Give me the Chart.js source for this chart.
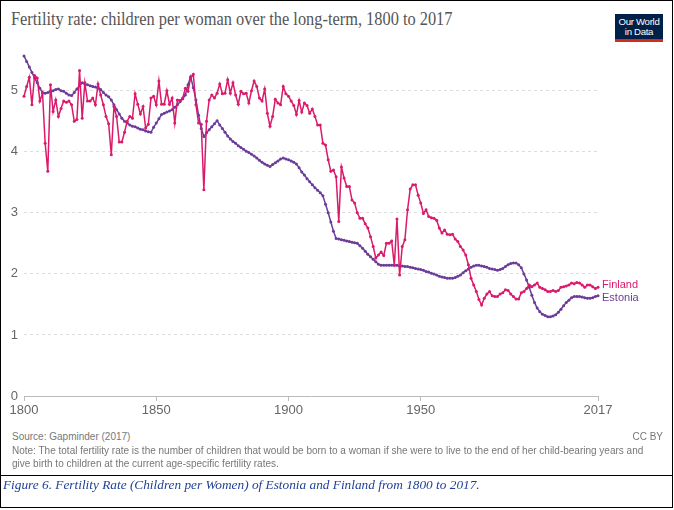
<!DOCTYPE html>
<html>
<head>
<meta charset="utf-8">
<script src="https://cdn.jsdelivr.net/npm/chart.js@4/dist/chart.umd.min.js"></script>
<style>
  html, body { margin: 0; padding: 0; background: #fff; }
  #wrap { position: relative; width: 674px; height: 510px; overflow: hidden; font-family: "Liberation Sans", Arial, sans-serif; }
  #frame { position: absolute; left: 0; top: 0; width: 673px; height: 508px; border: 1px solid #000; box-sizing: border-box; }
  #sep { position: absolute; left: 0; top: 475px; width: 673px; height: 1px; background: #000; }
  #title { position: absolute; left: 11px; top: 9px; font-family: "Liberation Serif", "Times New Roman", serif; font-size: 18.5px; color: #555; white-space: nowrap; transform: scaleX(0.885); transform-origin: 0 0; }
  #logo { position: absolute; left: 615px; top: 14px; width: 48px; height: 22px; background: #002147; border-bottom: 3px solid #d42b21; color: #fff; font-size: 9.6px; line-height: 10px; text-align: center; padding-top: 3px; letter-spacing: -0.3px; }
  #chart { position: absolute; left: 0; top: 0; }
  .foot { position: absolute; font-size: 10px; color: #777; white-space: nowrap; }
  #caption { position: absolute; left: 3px; top: 477px; font-family: "Liberation Serif", "Times New Roman", serif; font-style: italic; font-size: 13.3px; color: #1f3f96; white-space: nowrap; }
</style>
</head>
<body>
<div id="wrap">
  <div id="title">Fertility rate: children per woman over the long-term, 1800 to 2017</div>
  <div id="logo">Our World<br>in Data</div>
  <canvas id="chart" width="674" height="430"></canvas>
  <div class="foot" style="left:12px; top:431px;">Source: Gapminder (2017)</div>
  <div class="foot" style="right:11px; top:431px;">CC BY</div>
  <div class="foot" style="left:12px; top:444px; line-height:13px;">Note: The total fertility rate is the number of children that would be born to a woman if she were to live to the end of her child-bearing years and<br>give birth to children at the current age-specific fertility rates.</div>
  <div id="frame"></div>
  <div id="sep"></div>
  <div id="caption">Figure 6. Fertility Rate (Children per Women) of Estonia and Finland from 1800 to 2017.</div>
</div>
<script>
// Series run one value per year, starting at FIRST_YEAR.
var FIRST_YEAR = 1800;
var X_TICKS = [1800, 1850, 1900, 1950, 2017];
var Y_TICKS = [0, 1, 2, 3, 4, 5];

var finland = [
  4.91, 5.07, 5.22, 4.77, 5.25, 5.21, 4.83, 4.96, 4.14, 3.68,
  5.10, 4.66, 4.85, 4.58, 4.71, 4.83, 4.81, 4.83, 4.77, 4.50,
  4.53, 5.33, 4.55, 5.13, 4.83, 4.83, 4.88, 4.77, 5.11, 4.93,
  4.77, 4.58, 4.46, 3.95, 4.74, 4.58, 4.16, 4.16, 4.32, 4.50,
  4.58, 4.55, 4.95, 4.78, 4.62, 4.74, 4.39, 4.45, 4.88, 4.91,
  4.77, 5.16, 4.78, 4.78, 5.00, 4.78, 4.88, 4.47, 4.85, 4.84,
  4.88, 5.04, 4.99, 5.21, 5.27, 4.77, 4.47, 4.45, 3.38, 4.50,
  4.85, 4.93, 4.88, 4.96, 5.11, 4.95, 4.96, 5.18, 4.96, 5.13,
  4.93, 4.78, 4.99, 4.95, 4.96, 4.80, 5.00, 5.16, 5.07, 4.88,
  4.83, 5.03, 4.63, 4.42, 4.58, 4.86, 4.80, 4.77, 5.07, 4.95,
  4.91, 4.83, 4.76, 4.61, 4.84, 4.65, 4.80, 4.76, 4.63, 4.70,
  4.58, 4.44, 4.44, 4.14, 4.11, 3.87, 3.68, 3.70, 3.59, 2.86,
  3.75, 3.57, 3.43, 3.43, 3.21, 3.16, 3.00, 2.91, 2.91, 2.82,
  2.75, 2.61, 2.45, 2.26, 2.31, 2.36, 2.30, 2.50, 2.50, 2.54,
  2.14, 2.90, 1.98, 2.45, 2.56, 3.05, 3.39, 3.46, 3.46, 3.29,
  3.16, 2.99, 3.05, 2.94, 2.92, 2.91, 2.88, 2.75, 2.67, 2.72,
  2.65, 2.64, 2.65, 2.57, 2.53, 2.45, 2.39, 2.31, 2.15, 1.93,
  1.82, 1.71, 1.58, 1.49, 1.60, 1.67, 1.71, 1.64, 1.63, 1.63,
  1.67, 1.69, 1.74, 1.73, 1.67, 1.63, 1.59, 1.59, 1.69, 1.71,
  1.76, 1.82, 1.79, 1.82, 1.85, 1.78, 1.76, 1.74, 1.71, 1.71,
  1.73, 1.71, 1.73, 1.78, 1.79, 1.80, 1.82, 1.85, 1.84, 1.86,
  1.85, 1.82, 1.78, 1.82, 1.82, 1.79, 1.76, 1.78
];

var estonia = [
  5.57, 5.48, 5.39, 5.30, 5.21, 5.13, 5.04, 4.97, 4.96, 4.97,
  4.99, 5.00, 5.02, 5.03, 5.00, 4.99, 4.96, 4.93, 4.92, 4.97,
  5.03, 5.08, 5.13, 5.11, 5.10, 5.08, 5.07, 5.06, 5.04, 5.02,
  4.97, 4.93, 4.90, 4.85, 4.77, 4.69, 4.62, 4.55, 4.50, 4.47,
  4.44, 4.42, 4.41, 4.39, 4.37, 4.36, 4.34, 4.33, 4.32, 4.40,
  4.47, 4.54, 4.61, 4.63, 4.65, 4.67, 4.69, 4.73, 4.77, 4.82,
  4.87, 4.93, 5.10, 5.23, 5.05, 4.85, 4.60, 4.38, 4.25, 4.31,
  4.36, 4.41, 4.46, 4.51, 4.44, 4.38, 4.32, 4.26, 4.21, 4.17,
  4.14, 4.10, 4.07, 4.04, 4.01, 3.99, 3.96, 3.93, 3.90, 3.86,
  3.83, 3.80, 3.78, 3.76, 3.79, 3.82, 3.85, 3.88, 3.90, 3.88,
  3.87, 3.85, 3.83, 3.80, 3.74, 3.67, 3.62, 3.56, 3.51, 3.46,
  3.41, 3.37, 3.33, 3.28, 3.14, 3.00, 2.85, 2.70, 2.58, 2.57,
  2.56, 2.55, 2.54, 2.53, 2.52, 2.51, 2.50, 2.46, 2.42, 2.37,
  2.32, 2.28, 2.24, 2.20, 2.16, 2.14, 2.14, 2.14, 2.14, 2.14,
  2.14, 2.14, 2.13, 2.13, 2.12, 2.12, 2.11, 2.10, 2.09, 2.08,
  2.07, 2.06, 2.04, 2.03, 2.01, 2.00, 1.98, 1.96, 1.95, 1.94,
  1.93, 1.93, 1.93, 1.94, 1.96, 1.98, 2.02, 2.05, 2.08, 2.11,
  2.13, 2.14, 2.14, 2.13, 2.12, 2.11, 2.09, 2.08, 2.07, 2.06,
  2.07, 2.09, 2.12, 2.15, 2.17, 2.18, 2.18, 2.15, 2.10, 2.00,
  1.90, 1.78, 1.65, 1.53, 1.44, 1.38, 1.34, 1.32, 1.30, 1.30,
  1.31, 1.33, 1.37, 1.42, 1.48, 1.53, 1.57, 1.61, 1.63, 1.63,
  1.63, 1.62, 1.61, 1.60, 1.60, 1.61, 1.63, 1.64
];

var FINLAND_COLOR = "#db1a6b";
var ESTONIA_COLOR = "#6b3c98";

function toPoints(values) {
  return values.map(function (v, i) { return { x: FIRST_YEAR + i, y: v }; });
}

function serie(label, values, color) {
  return {
    label: label,
    data: toPoints(values),
    borderColor: color,
    backgroundColor: color,
    borderWidth: 1.5,
    pointRadius: 1.5,
    pointBorderWidth: 0,
    pointBackgroundColor: color,
    tension: 0,
    fill: false,
    clip: 4
  };
}

// Country names written at the end of each line, like the original.
var endLabels = {
  id: "endLabels",
  afterDatasetsDraw: function (chart) {
    var ctx = chart.ctx;
    var nudge = [-2, 2];
    chart.data.datasets.forEach(function (ds, i) {
      var pts = chart.getDatasetMeta(i).data;
      var last = pts[pts.length - 1];
      ctx.save();
      ctx.font = '11px "Liberation Sans", Arial, sans-serif';
      ctx.fillStyle = ds.borderColor;
      ctx.textBaseline = "middle";
      ctx.fillText(ds.label, chart.chartArea.right + 4, last.y + nudge[i]);
      ctx.restore();
    });
  }
};

var tickFont = { family: '"Liberation Sans", Arial, sans-serif', size: 13 };

new Chart(document.getElementById("chart"), {
  type: "line",
  data: {
    datasets: [
      serie("Finland", finland, FINLAND_COLOR),
      serie("Estonia", estonia, ESTONIA_COLOR)
    ]
  },
  plugins: [endLabels],
  options: {
    responsive: false,
    animation: false,
    events: [],
    layout: { padding: { top: 48, right: 76, bottom: 14, left: 0 } },
    plugins: { legend: { display: false }, tooltip: { enabled: false } },
    scales: {
      x: {
        type: "linear",
        min: 1800,
        max: 2017,
        afterBuildTicks: function (s) { s.ticks = X_TICKS.map(function (v) { return { value: v }; }); },
        afterFit: function (s) { s.height = 20; s.paddingLeft = 0; s.paddingRight = 0; },
        ticks: { color: "#666", font: tickFont, padding: 2, maxRotation: 0, autoSkip: false,
                 callback: function (v) { return String(v); } },
        grid: { drawOnChartArea: false, drawTicks: true, tickLength: 5, color: "#bbb" },
        border: { display: true, color: "#bbb" }
      },
      y: {
        min: 0,
        max: 5.7,
        afterBuildTicks: function (s) { s.ticks = Y_TICKS.map(function (v) { return { value: v }; }); },
        afterFit: function (s) { s.width = 24; s.paddingTop = 0; s.paddingBottom = 0; },
        ticks: { color: "#666", font: tickFont, padding: 6 },
        grid: {
          drawTicks: false,
          color: function (c) { return c.tick && c.tick.value === 0 ? "rgba(0,0,0,0)" : "#ddd"; }
        },
        border: { display: false, dash: [3, 3] }
      }
    }
  }
});
</script>
</body>
</html>
